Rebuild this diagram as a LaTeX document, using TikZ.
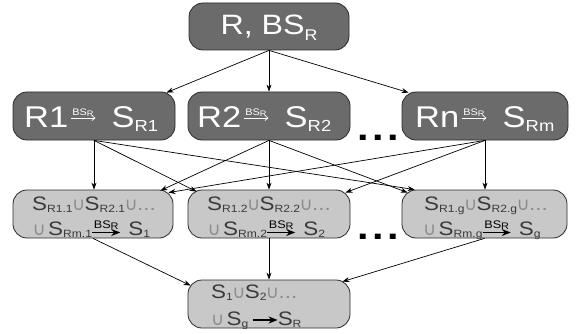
\documentclass[tikz,border=0pt]{standalone}
\usepackage{fontspec}
\setmainfont{Liberation Sans}[FakeStretch=1.15]
\newfontfamily\cupfont{DejaVu Sans}
\usetikzlibrary{arrows.meta,calc}

\definecolor{boxdark}{HTML}{6B6B6B}
\definecolor{boxlight}{HTML}{C8C8C8}
\definecolor{inkdark}{HTML}{3A3A3A}
\definecolor{cupgray}{HTML}{8C8C8C}
\definecolor{edgeline}{HTML}{2B2B2B}

% lowered, resized subscript: #1 drop, #2 font size, #3 text
\newcommand\sbx[3]{\raisebox{-#1}{\fontsize{#2}{#2}\selectfont #3}}
% light union sign and trailing dots
\newcommand\cupg{\makebox[12pt][c]{\cupfont\fontsize{18}{18}\selectfont\color{cupgray}∪}}
\newcommand\dotsg{{\color{cupgray}...}}

\begin{document}
\begin{tikzpicture}[x=1pt,y=-1pt,
  darkbox/.style={draw=edgeline, fill=boxdark, line width=0.8pt, rounded corners=14pt,
    minimum width=#1, minimum height=48pt, inner sep=0pt},
  darkbox/.default=162pt,
  lightbox/.style={draw=edgeline, fill=boxlight, line width=0.8pt, rounded corners=14pt,
    minimum width=#1, minimum height=48pt, inner sep=0pt},
  lightbox/.default=162pt,
  toptxt/.style={anchor=base, inner sep=0pt, text=white, font=\fontsize{28}{28}\selectfont},
  bigtxt/.style={anchor=base west, inner sep=0pt, text=white, font=\fontsize{30}{30}\selectfont},
  midtxt/.style={anchor=base west, inner sep=0pt, text=inkdark, font=\fontsize{19.5}{19.5}\selectfont},
  flow/.style={-{Stealth[length=7pt,width=5pt]}, line width=0.7pt, black},
  maparrow/.style={-{Straight Barb[length=3pt,width=5pt]}, line width=0.7pt, white},
  boldmap/.style={-{Stealth[length=9pt,width=7pt]}, line width=1.6pt, black},
  smalllab/.style={above, inner sep=1pt, text=white, font=\fontsize{9.5}{9.5}\selectfont},
  midlab/.style={above, inner sep=2pt, text=black, font=\fontsize{11}{11}\selectfont},
  dotrow/.style={anchor=base, inner sep=0pt, font=\bfseries\fontsize{36}{36}\selectfont},
]
\useasboundingbox (0,0) rectangle (580,334);
\fill[white] (0,0) rectangle (580,334);

% ---- boxes ----
\node[darkbox=160pt, minimum height=47pt] (top) at (269,26.5) {};
\node[darkbox] (R1) at (94,116) {};
\node[darkbox] (R2) at (269,116) {};
\node[darkbox=166pt] (Rn) at (485,116) {};
\node[lightbox=160pt] (B1) at (93,214) {};
\node[lightbox] (B2) at (269,214) {};
\node[lightbox=165pt] (Bg) at (484.5,214) {};
\node[lightbox] (B4) at (269,304) {};

% ---- top ----
\node[toptxt] (toplab) at (269,35) {R, BS\sbx{6pt}{15.5}{R}};

% ---- second row ----
\node[bigtxt] (r1a) at (24,127) {R1};
\node[bigtxt] (r1b) at ($(r1a.base east)+(43,0)$) {S\sbx{4.5pt}{16}{R1}};
\draw[maparrow] ($(r1a.base east)+(2,-9)$) -- node[smalllab]{BS\sbx{1.5pt}{8}{R}} ($(r1b.base west)+(-16,-9)$);

\node[bigtxt] (r2a) at (197,127) {R2};
\node[bigtxt] (r2b) at ($(r2a.base east)+(43,0)$) {S\sbx{4.5pt}{16}{R2}};
\draw[maparrow] ($(r2a.base east)+(2,-9)$) -- node[smalllab]{BS\sbx{1.5pt}{8}{R}} ($(r2b.base west)+(-16,-9)$);

\node[bigtxt] (rna) at (415,127) {Rn};
\node[bigtxt] (rnb) at ($(rna.base east)+(43,0)$) {S\sbx{4.5pt}{16}{Rm}};
\draw[maparrow] ($(rna.base east)+(2,-9)$) -- node[smalllab]{BS\sbx{1.5pt}{8}{R}} ($(rnb.base west)+(-16,-9)$);

\node[dotrow] (dots1) at (378,140) {.\kern3.5pt.\kern3.5pt.};

% ---- third row ----
\node[midtxt] (b1a) at (32,210) {S\sbx{2pt}{10.5}{R1.1}\cupg S\sbx{2pt}{10.5}{R2.1}\cupg\dotsg};
\node[midtxt] (b1b) at (33,235) {\cupg\hspace{3pt}S\sbx{2pt}{10.5}{Rm.1}};
\node[midtxt] (b1c) at ($(b1b.base east)+(36,0)$) {S\sbx{2pt}{10.5}{1}};
\draw[boldmap] ($(b1b.base east)+(0,-2.5)$) -- node[midlab]{BS\sbx{1.5pt}{9.5}{R}} ($(b1c.base west)+(-8,-2.5)$);

\node[midtxt] (b2a) at (207,210) {S\sbx{2pt}{10.5}{R1.2}\cupg S\sbx{2pt}{10.5}{R2.2}\cupg\dotsg};
\node[midtxt] (b2b) at (208,235) {\cupg\hspace{3pt}S\sbx{2pt}{10.5}{Rm.2}};
\node[midtxt] (b2c) at ($(b2b.base east)+(36,0)$) {S\sbx{2pt}{10.5}{2}};
\draw[boldmap] ($(b2b.base east)+(0,-2.5)$) -- node[midlab]{BS\sbx{1.5pt}{9.5}{R}} ($(b2c.base west)+(-8,-2.5)$);

\node[midtxt] (bga) at (424,210) {S\sbx{2pt}{10.5}{R1.g}\cupg S\sbx{2pt}{10.5}{R2.g}\cupg\dotsg};
\node[midtxt] (bgb) at (423.5,235) {\cupg\hspace{3pt}S\sbx{2pt}{10.5}{Rm.g}};
\node[midtxt] (bgc) at ($(bgb.base east)+(36,0)$) {S\sbx{2pt}{10.5}{g}};
\draw[boldmap] ($(bgb.base east)+(0,-2.5)$) -- node[midlab]{BS\sbx{1.5pt}{9.5}{R}} ($(bgc.base west)+(-8,-2.5)$);

\node[dotrow] (dots2) at (378,239) {.\kern3.5pt.\kern3.5pt.};

% ---- bottom ----
\node[midtxt] (b4a) at (211,298) {S\sbx{2pt}{10.5}{1}\cupg S\sbx{2pt}{10.5}{2}\cupg\dotsg};
\node[midtxt] (b4b) at (211.5,325) {\cupg\hspace{3pt}S\sbx{2pt}{10.5}{g}};
\node[midtxt] (b4c) at ($(b4b.base east)+(29,0)$) {S\sbx{2pt}{10.5}{R}};
\draw[boldmap] ($(b4b.base east)+(4,-5)$) -- ($(b4c.base west)+(0,-5)$);

% ---- connectors ----
\draw[flow] (top.south) -- ($(R1.north east)+(-9,1)$);
\draw[flow] (top.south) -- (R2.north);
\draw[flow] (top.south) -- ($(Rn.north west)+(7,1)$);

\draw[flow] (R1.south) -- (R1.south |- B1.north);
\draw[flow] (R1.south) -- ($(B2.north west)+(9,2)$);
\draw[flow] (R1.south) -- ($(Bg.north west)+(13,0)$);
\draw[flow] (R2.south) -- ($(B1.north east)+(-13,1)$);
\draw[flow] (R2.south) -- (B2.north);
\draw[flow] (R2.south) -- ($(Bg.north west)+(6,3)$);
\draw[flow] (Rn.south) -- ($(B1.north east)+(-5,3)$);
\draw[flow] (Rn.south) -- ($(B2.north east)+(-5,3)$);
\draw[flow] (Rn.south) -- (Rn.south |- Bg.north);

\draw[flow] (B1.south) -- ($(B4.north west)+(3,6)$);
\draw[flow] (B2.south) -- (B4.north);
\draw[flow] (Bg.south) -- ($(B4.north east)+(-8,2)$);
\end{tikzpicture}
\end{document}
